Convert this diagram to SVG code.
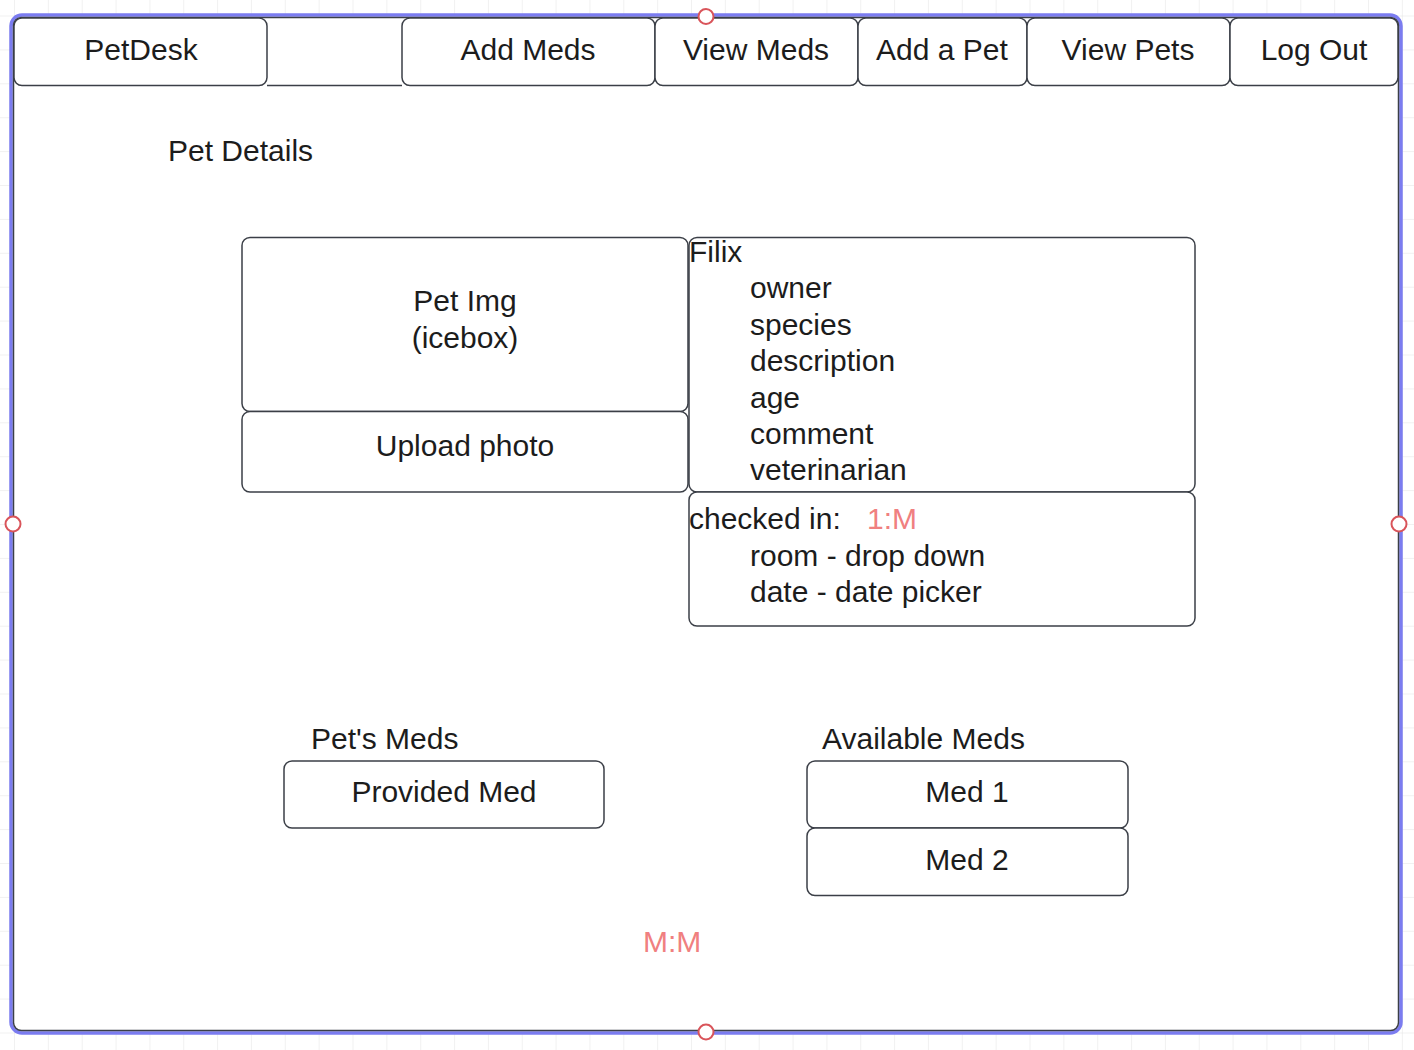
<svg xmlns="http://www.w3.org/2000/svg" width="1414" height="1050" viewBox="0 0 1414 1050">
<style>
.box{fill:#ffffff;stroke:#3b3f47;stroke-width:1.5}
.t{font-family:"Liberation Sans",Arial,sans-serif;font-size:30px;fill:#1c1c1c}
.c{text-anchor:middle}
.red{fill:#f08080}
.h{fill:#ffffff;stroke:#d9545a;stroke-width:2}
</style>
<defs>
<pattern id="grid" x="14" y="15.5" width="33.85" height="33.9" patternUnits="userSpaceOnUse">
<path d="M0 0V33.9M0 0H33.85" fill="none" stroke="#e3e3e3" stroke-width="1"/>
</pattern>
</defs>
<rect width="1414" height="1050" fill="#ffffff"/>
<rect width="1414" height="1050" fill="url(#grid)"/>
<g id="frame">
<rect x="11" y="15" width="1390" height="1018" rx="11" fill="#ffffff" stroke="#7b7cf0" stroke-width="3.5"/>
<rect x="13.5" y="17.5" width="1385" height="1013" rx="8" fill="#ffffff" stroke="#3b3f47" stroke-width="1.5"/>
<line x1="267" y1="85.5" x2="402" y2="85.5" stroke="#3b3f47" stroke-width="1.5"/>
</g>
<g id="nav-petdesk"><rect class="box" x="14" y="18" width="253" height="67.5" rx="8"/><text class="t c" x="141" y="60">PetDesk</text></g>
<g id="nav-addmeds"><rect class="box" x="402" y="18" width="253" height="67.5" rx="8"/><text class="t c" x="528" y="60">Add Meds</text></g>
<g id="nav-viewmeds"><rect class="box" x="655" y="18" width="203" height="67.5" rx="8"/><text class="t c" x="756" y="60">View Meds</text></g>
<g id="nav-addpet"><rect class="box" x="858" y="18" width="169" height="67.5" rx="8"/><text class="t c" x="942" y="60">Add a Pet</text></g>
<g id="nav-viewpets"><rect class="box" x="1027" y="18" width="203" height="67.5" rx="8"/><text class="t c" x="1128" y="60">View Pets</text></g>
<g id="nav-logout"><rect class="box" x="1230" y="18" width="168" height="67.5" rx="8"/><text class="t c" x="1314" y="60">Log Out</text></g>
<g id="title"><text class="t" x="168" y="161">Pet Details</text></g>
<g id="pet-img"><rect class="box" x="242" y="237.5" width="446" height="174" rx="8"/><text class="t c" x="465" y="311">Pet Img</text><text class="t c" x="465" y="348">(icebox)</text></g>
<g id="upload"><rect class="box" x="242" y="411.5" width="446" height="80.5" rx="8"/><text class="t c" x="465" y="456">Upload photo</text></g>
<g id="details"><rect class="box" x="689" y="237.5" width="506" height="254.5" rx="8"/>
<text class="t" x="689" y="262">Filix</text>
<text class="t" x="750" y="298">owner</text>
<text class="t" x="750" y="335">species</text>
<text class="t" x="750" y="371">description</text>
<text class="t" x="750" y="408">age</text>
<text class="t" x="750" y="444">comment</text>
<text class="t" x="750" y="480">veterinarian</text>
</g>
<g id="checkin"><rect class="box" x="689" y="492" width="506" height="134" rx="8"/>
<text class="t" x="689" y="529">checked in:</text>
<text class="t red" x="867" y="529">1:M</text>
<text class="t" x="750" y="566">room - drop down</text>
<text class="t" x="750" y="602">date - date picker</text>
</g>
<g id="pets-meds"><text class="t" x="311" y="749">Pet's Meds</text><rect class="box" x="284" y="761" width="320" height="67" rx="8"/><text class="t c" x="444" y="802">Provided Med</text></g>
<g id="avail-meds"><text class="t" x="822" y="749">Available Meds</text>
<rect class="box" x="807" y="761" width="321" height="67" rx="8"/><text class="t c" x="967" y="802">Med 1</text>
<rect class="box" x="807" y="828" width="321" height="67.5" rx="8"/><text class="t c" x="967" y="870">Med 2</text>
</g>
<g id="mm"><text class="t red" x="643" y="952">M:M</text></g>
<g id="handles">
<circle class="h" cx="706" cy="16.5" r="7.5"/>
<circle class="h" cx="13" cy="524" r="7.5"/>
<circle class="h" cx="1399" cy="524" r="7.5"/>
<circle class="h" cx="706" cy="1032" r="7.5"/>
</g>
<g id="connectors"></g>
</svg>
